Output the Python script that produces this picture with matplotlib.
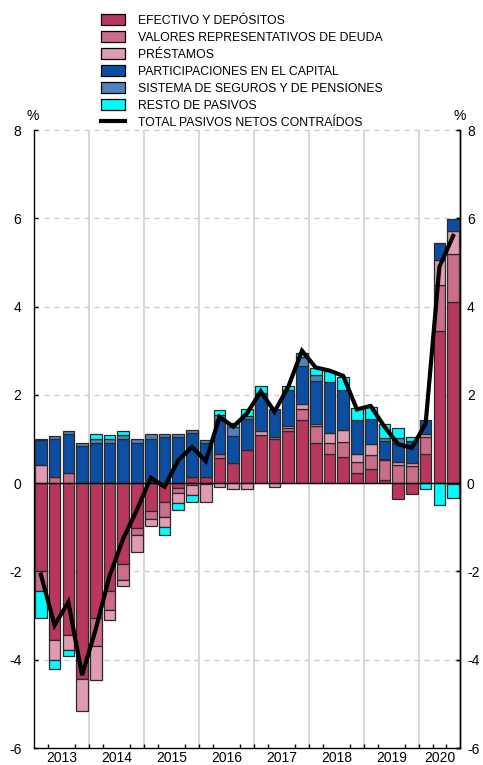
import numpy as np
import matplotlib
matplotlib.use("Agg")
import matplotlib.pyplot as plt
from matplotlib.patches import Patch
from matplotlib.lines import Line2D

plt.rcParams['font.family'] = ['Liberation Sans', 'DejaVu Sans']

# Quarterly data 2013Q1 .. 2020Q3 (% )
years = ['2013', '2014', '2015', '2016', '2017', '2018', '2019', '2020']

efectivo = [-2.00, -3.56, -3.43, -4.43, -3.05, -2.44, -1.84, -1.01, -0.64, -0.42, -0.12, 0.14,
            0.14, 0.58, 0.46, 0.75, 1.09, 0.99, 1.19, 1.44, 0.90, 0.66, 0.60, 0.23,
            0.33, 0.07, -0.35, -0.25, 0.67, 3.45, 4.11]
valores = [-0.44, 0.15, 0.24, 0.00, -0.64, -0.44, -0.36, -0.17, -0.18, -0.34, -0.11, -0.05,
           -0.02, 0.09, 0.00, 0.00, 0.00, 0.06, 0.06, 0.25, 0.40, 0.26, 0.34, 0.25,
           0.30, 0.45, 0.41, 0.39, 0.38, 1.04, 1.07]
prestamos = [0.40, -0.45, -0.34, -0.73, -0.78, -0.23, -0.14, -0.38, -0.15, -0.24, -0.23, -0.22,
             -0.41, -0.08, -0.13, -0.14, 0.10, -0.08, 0.05, 0.10, 0.05, 0.21, 0.26, 0.17,
             0.26, 0.03, 0.07, 0.06, 0.07, 0.57, 0.53]
participaciones = [0.57, 0.85, 0.88, 0.84, 0.91, 0.91, 0.99, 0.90, 1.01, 1.04, 1.05, 1.00,
                   0.77, 0.76, 0.61, 0.70, 0.85, 0.64, 0.80, 0.86, 0.97, 1.15, 0.92, 0.78,
                   0.57, 0.40, 0.43, 0.51, 0.30, 0.38, 0.28]
seguros = [0.03, 0.06, 0.05, 0.06, 0.10, 0.08, 0.10, 0.11, 0.10, 0.07, 0.07, 0.06,
           0.06, 0.11, 0.20, 0.08, 0.00, 0.00, 0.00, 0.20, 0.13, 0.00, 0.00, 0.00,
           0.00, 0.08, 0.12, 0.00, 0.00, 0.00, -0.03]
resto = [-0.61, -0.21, -0.15, 0.00, 0.11, 0.10, 0.08, 0.00, 0.00, -0.17, -0.15, -0.15,
         0.00, 0.11, 0.09, 0.14, 0.15, 0.00, 0.11, 0.10, 0.15, 0.25, 0.28, 0.28,
         0.26, 0.30, 0.22, 0.09, -0.14, -0.50, -0.30]
total = [-2.07, -3.22, -2.69, -4.35, -3.30, -2.10, -1.25, -0.60, 0.12, -0.08, 0.52, 0.82,
         0.50, 1.50, 1.28, 1.58, 2.08, 1.62, 2.18, 3.00, 2.62, 2.55, 2.43, 1.67,
         1.75, 1.28, 0.88, 0.80, 1.35, 4.90, 5.60]

labels = ['EFECTIVO Y DEPÓSITOS', 'VALORES REPRESENTATIVOS DE DEUDA', 'PRÉSTAMOS',
          'PARTICIPACIONES EN EL CAPITAL', 'SISTEMA DE SEGUROS Y DE PENSIONES',
          'RESTO DE PASIVOS']
total_label = 'TOTAL PASIVOS NETOS CONTRAÍDOS'
colors = ['#b8385d', '#cb6c88', '#df9cb1', '#0b4ea2', '#4f82bd', '#00fcfc']
yticks = list(range(-6, 9, 2))

W, H = 483, 765
fig = plt.figure(figsize=(W / 100, H / 100), dpi=100)
ax = fig.add_axes([34 / W, 17 / H, 426 / W, 618 / H])

n = len(total)
x = np.arange(n)
pos_b = np.zeros(n)
neg_b = np.zeros(n)
series = [efectivo, valores, prestamos, participaciones, seguros, resto]
for vals, col in zip(series, colors):
    v = np.array(vals, dtype=float)
    mp = v > 0
    mn = v < 0
    ax.bar(x[mp], v[mp], bottom=pos_b[mp], width=0.85, color=col,
           edgecolor='#2a2a2a', linewidth=0.9, zorder=3)
    ax.bar(x[mn], v[mn], bottom=neg_b[mn], width=0.85, color=col,
           edgecolor='#2a2a2a', linewidth=0.9, zorder=3)
    pos_b += np.where(mp, v, 0)
    neg_b += np.where(mn, v, 0)

ax.plot(x, total, color='black', lw=3.0, zorder=5, solid_joinstyle='miter')

ax.set_xlim(-0.5, n - 0.5)
ax.set_ylim(-6, 8)

# grid
for yv in [-4, -2, 2, 4, 6, 8]:
    ax.axhline(yv, color='#c8c8c8', lw=0.9, ls=(0, (4, 4)), zorder=1, clip_on=False)
ax.axhline(0, color='black', lw=1.0, zorder=4)
for k in range(1, len(years)):
    ax.axvline(4 * k - 0.5, color='#d4d4d4', lw=1.3, zorder=1)

for s in ['left', 'right', 'bottom']:
    ax.spines[s].set_color('black')
    ax.spines[s].set_linewidth(1.0)
ax.spines['top'].set_visible(False)

ax.set_yticks(yticks)
ax.set_yticklabels([str(v) for v in yticks])
ax.tick_params(axis='y', which='both', left=True, right=True, labelleft=True,
               labelright=False, direction='in', length=3, width=1, labelsize=10, pad=9)

sec = ax.secondary_yaxis('right')
sec.set_yticks(yticks)
sec.set_yticklabels([str(v) for v in yticks])
sec.tick_params(axis='y', direction='in', length=3, width=1, labelsize=10, pad=5)
sec.spines['right'].set_linewidth(1.0)

centers = [4 * k + 1.5 for k in range(len(years) - 1)] + [29.0]
ax.set_xticks(centers)
ax.set_xticklabels(years)
ax.set_xticks([k + 0.5 for k in range(n - 1)], minor=True)
ax.tick_params(axis='x', which='major', length=0, labelsize=10, pad=2)
ax.tick_params(axis='x', which='minor', direction='in', length=3, width=1)

fig.text(33 / W, 1 - 116 / H, '%', ha='center', va='center', fontsize=10)
fig.text(460 / W, 1 - 116 / H, '%', ha='center', va='center', fontsize=10)

handles = [Patch(facecolor=c, edgecolor='black', linewidth=0.9) for c in colors]
handles.append(Line2D([0], [0], color='black', lw=3))
fig.legend(handles, labels + [total_label], loc='upper left',
           bbox_to_anchor=(101 / W, 1 - 14 / H), frameon=False, fontsize=8.8,
           handlelength=2.0, handleheight=1.0, labelspacing=0.36, handletextpad=1.0,
           borderpad=0, borderaxespad=0)

fig.savefig('out.png', dpi=100)
